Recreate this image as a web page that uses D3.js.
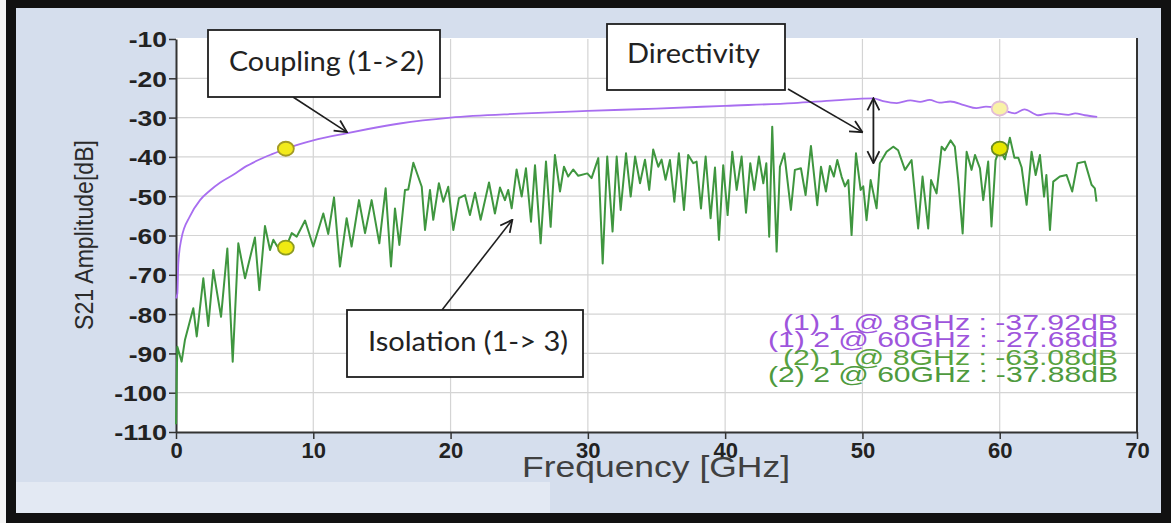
<!DOCTYPE html>
<html>
<head>
<meta charset="utf-8">
<script src="https://cdn.jsdelivr.net/npm/d3@7"></script>
<style>
  body { margin: 0; background: #fff; }
  svg { display: block; }
</style>
</head>
<body>
<svg id="chart" width="1171" height="523"></svg>
<script>
// Coupling (1->2), purple trace
const freqCoupling = [0, 0.1, 0.17, 0.4, 1.0, 1.75, 2.5, 3.2, 4.2, 5.0, 6.0, 7.0, 8.0, 10.0, 12.4, 14.0, 16.3, 20.0, 25.0, 30.0,
  35.0, 40.0, 45.0, 48.0, 50.8, 51.5, 52.5, 53.5, 54.2, 54.9, 55.6, 56.4, 57.4, 58.3, 59.0, 60.0, 60.5, 61.1, 61.8, 62.8,
  63.5, 64.0, 65.0, 65.5, 66.2, 67.1];
const ampCoupling = [-76, -74.7, -67, -60.7, -55.2, -51, -48.5, -46.6, -44.5, -42.6, -40.8, -39.3, -37.92, -35.8, -34.0, -32.9, -31.5, -30.0, -29.0, -28.3,
  -27.7, -27.0, -26.3, -25.6, -25.1, -25.8, -26.3, -25.6, -26.0, -25.5, -26.2, -25.9, -26.8, -27.6, -27.2, -27.68, -28.4, -28.9, -27.9, -29.4,
  -29.0, -28.9, -29.3, -28.9, -29.4, -29.8];

// Isolation (1->3), green trace
const freqIsolation = [0, 0.05, 0.1, 0.41, 0.65, 1.26, 1.51, 1.99, 2.35, 2.72, 3.28, 3.74, 4.13, 4.54, 5.03, 5.75, 6.07, 6.48, 6.85, 7.09,
  7.38, 8.0, 8.43, 8.79, 9.4, 10.0, 10.73, 11.09, 11.51, 11.94, 12.43, 12.79, 13.33, 13.77, 14.25, 14.81, 15.27, 15.66, 15.95, 16.27,
  16.68, 16.92, 17.29, 17.6, 17.9, 18.14, 18.5, 18.74, 19.15, 19.47, 19.83, 20.2, 20.61, 21.05, 21.41, 21.78, 22.19, 22.8, 23.23, 23.6,
  23.96, 24.2, 24.45, 24.81, 25.18, 25.49, 25.86, 26.15, 26.56, 26.95, 27.29, 27.6, 27.97, 28.26, 28.57, 28.93, 29.3, 29.96, 30.27, 30.76,
  31.08, 31.41, 31.8, 32.1, 32.39, 32.78, 33.12, 33.44, 33.8, 34.16, 34.47, 34.76, 35.13, 35.37, 35.66, 35.98, 36.3, 36.63, 37.0, 37.31,
  37.68, 37.92, 38.24, 38.58, 38.94, 39.26, 39.55, 39.86, 40.18, 40.52, 40.84, 41.2, 41.52, 41.83, 42.12, 42.46, 42.78, 43.0, 43.21, 43.43,
  43.75, 43.99, 44.31, 44.79, 45.08, 45.52, 45.86, 46.25, 46.71, 46.98, 47.34, 47.63, 47.92, 48.17, 48.48, 48.73, 48.97, 49.21, 49.53, 49.87,
  50.06, 50.3, 50.6, 51.03, 51.27, 51.76, 52.24, 52.6, 53.1, 53.58, 54.06, 54.38, 54.79, 55.0, 55.4, 55.77, 56.0, 56.42, 56.73, 56.98,
  57.3, 57.59, 57.95, 58.2, 58.56, 58.8, 59.16, 59.4, 59.7, 60.0, 60.38, 60.74, 61.07, 61.35, 61.6, 61.96, 62.32, 62.62, 62.93, 63.23,
  63.4, 63.66, 63.9, 64.38, 64.87, 65.28, 65.67, 66.2, 66.69, 66.93, 67.05];
const ampIsolation = [-108, -96, -88.3, -92.1, -86.6, -78.5, -85.7, -70.9, -83.0, -68.8, -80.7, -63.3, -92.1, -62.0, -70.9, -60.5, -73.9, -57.6, -63.7, -61.1,
  -62.8, -63.08, -59.4, -60.3, -56.2, -62.8, -54.4, -59.6, -50.3, -67.9, -55.6, -62.8, -51.0, -59.4, -51.0, -62.0, -48.0, -67.9, -53.1, -62.4,
  -48.4, -48.3, -41.5, -44.6, -47.6, -58.6, -48.4, -56.0, -46.7, -51.4, -47.6, -58.6, -50.5, -49.7, -54.8, -49.1, -56.0, -46.5, -54.4, -47.8,
  -51.0, -48.4, -53.1, -43.2, -50.1, -42.9, -56.5, -42.1, -62.0, -41.2, -57.8, -39.5, -48.8, -42.5, -45.0, -43.2, -44.8, -44.2, -45.4, -40.3,
  -67.1, -39.9, -59.0, -39.9, -53.5, -39.1, -50.1, -39.9, -46.7, -40.7, -48.4, -38.1, -42.5, -40.7, -45.8, -40.8, -51.4, -39.1, -53.5, -39.5,
  -41.6, -41.2, -53.1, -39.9, -55.6, -42.7, -61.1, -42.1, -54.8, -38.7, -48.4, -39.9, -54.2, -41.6, -48.4, -39.9, -46.7, -41.6, -60.3, -32.3,
  -64.1, -42.5, -39.1, -53.5, -43.3, -42.9, -49.7, -37.2, -52.3, -42.5, -48.8, -42.3, -45.0, -40.8, -45.0, -47.5, -45.9, -59.9, -39.1, -48.4,
  -47.5, -56.1, -45.9, -53.1, -41.6, -38.7, -37.4, -38.3, -43.3, -40.8, -58.2, -45.0, -58.2, -45.9, -49.3, -37.4, -38.3, -35.8, -37.4, -45.9,
  -59.5, -38.7, -43.3, -39.5, -42.9, -51.0, -41.2, -57.7, -40.8, -37.88, -40.6, -35.1, -40.2, -40.2, -42.7, -52.2, -38.7, -44.6, -39.5, -50.1,
  -44.6, -58.6, -46.3, -45.0, -44.6, -48.8, -41.6, -41.2, -47.1, -48.0, -51.4];

// cursor markers
const markerFreqs = [8, 60];
const markerCoupling = [-37.92, -27.68];
const markerIsolation = [-63.08, -37.88];

const xTicks = [0, 10, 20, 30, 40, 50, 60, 70];
const yTicks = [-10, -20, -30, -40, -50, -60, -70, -80, -90, -100, -110];

const svg = d3.select('#chart');
const sans = '"Liberation Sans", Arial, sans-serif';
const calib = 'Lato, "Open Sans", sans-serif';

// frame / panel background
svg.append('rect').attr('x', 0).attr('y', 0).attr('width', 1171).attr('height', 523).attr('fill', '#111');
svg.append('rect').attr('x', 0).attr('y', 0).attr('width', 6).attr('height', 523).attr('fill', '#f4f4f4');
svg.append('rect').attr('x', 16).attr('y', 8).attr('width', 1145).attr('height', 505).attr('fill', '#d5deed');
svg.append('rect').attr('x', 16).attr('y', 482).attr('width', 534).attr('height', 31).attr('fill', '#e3e9f3');

const x = d3.scaleLinear().domain([0, 70]).range([176, 1137]);
const y = d3.scaleLinear().domain([-110, -10]).range([432, 39]);

// plot area
svg.append('rect')
  .attr('x', x(0)).attr('y', y(-10) - 1)
  .attr('width', x(70) - x(0)).attr('height', y(-110) - y(-10) + 1)
  .attr('fill', '#fff');

// grid
svg.append('g').selectAll('line')
  .data(xTicks.slice(1, -1))
  .join('line')
  .attr('x1', d => x(d)).attr('x2', d => x(d))
  .attr('y1', y(-10)).attr('y2', y(-110))
  .attr('stroke', '#d4d4d4').attr('stroke-width', 1.2);
svg.append('g').selectAll('line')
  .data(yTicks.slice(1, -1))
  .join('line')
  .attr('x1', x(0)).attr('x2', x(70))
  .attr('y1', d => y(d)).attr('y2', d => y(d))
  .attr('stroke', '#d4d4d4').attr('stroke-width', 1.2);

// right border of plot
svg.append('line')
  .attr('x1', x(70)).attr('x2', x(70)).attr('y1', y(-10) - 1).attr('y2', y(-110))
  .attr('stroke', '#333').attr('stroke-width', 2);

// axes (plain hyphen for the minus sign, as in the original)
const yAxis = svg.append('g')
  .attr('transform', `translate(${x(0)},0)`)
  .call(d3.axisLeft(y).tickValues(yTicks).tickSize(7).tickSizeOuter(0).tickFormat(d => String(d)));
yAxis.select('.domain').attr('stroke', '#333').attr('stroke-width', 2);
yAxis.selectAll('.tick line').attr('stroke', '#333').attr('stroke-width', 1.5);
yAxis.selectAll('.tick text')
  .attr('x', -9).attr('dy', '0.36em')
  .attr('font-family', sans).attr('font-weight', 'bold').attr('font-size', 22)
  .attr('fill', '#222')
  .attr('textLength', d => 9 + 14.6 * String(Math.abs(d)).length)
  .attr('lengthAdjust', 'spacingAndGlyphs');

const xAxis = svg.append('g')
  .attr('transform', `translate(0,${y(-110)})`)
  .call(d3.axisBottom(x).tickValues(xTicks).tickSize(7).tickSizeOuter(0).tickFormat(d => String(d)));
xAxis.select('.domain').attr('stroke', '#333').attr('stroke-width', 2);
xAxis.selectAll('.tick line').attr('stroke', '#333').attr('stroke-width', 1.5);
xAxis.selectAll('.tick text')
  .attr('y', 26).attr('dy', 0)
  .attr('font-family', sans).attr('font-weight', 'bold').attr('font-size', 22)
  .attr('fill', '#222');

// axis titles
svg.append('text')
  .attr('transform', 'translate(93,235) rotate(-90)')
  .attr('text-anchor', 'middle')
  .attr('font-family', sans).attr('font-size', 26).attr('fill', '#2a2a2a')
  .attr('textLength', 190).attr('lengthAdjust', 'spacingAndGlyphs')
  .text('S21 Amplitude[dB]');
svg.append('text')
  .attr('x', 522).attr('y', 477)
  .attr('font-family', sans).attr('font-size', 29).attr('fill', '#404040')
  .attr('textLength', 268).attr('lengthAdjust', 'spacingAndGlyphs')
  .text('Frequency [GHz]');

// traces
const coupling = freqCoupling.map((f, i) => [f, ampCoupling[i]]);
const isolation = freqIsolation.map((f, i) => [f, ampIsolation[i]]);

svg.append('path')
  .datum(isolation)
  .attr('fill', 'none')
  .attr('stroke', '#3f963f').attr('stroke-width', 2).attr('stroke-linejoin', 'round')
  .attr('d', d3.line().x(d => x(d[0])).y(d => y(d[1])));

svg.append('path')
  .datum(coupling)
  .attr('fill', 'none')
  .attr('stroke', '#a86ef0').attr('stroke-width', 1.8)
  .attr('d', d3.line().curve(d3.curveMonotoneX).x(d => x(d[0])).y(d => y(d[1])));

// marker dots
const dots = [
  { f: markerFreqs[0], v: markerCoupling[0], fill: '#f2ea1c', stroke: '#a39a25' },
  { f: markerFreqs[1], v: markerCoupling[1], fill: '#f9f2a6', stroke: '#e2bcd8' },
  { f: markerFreqs[0], v: markerIsolation[0], fill: '#f0ea12', stroke: '#8c9a22' },
  { f: markerFreqs[1], v: markerIsolation[1], fill: '#e6e600', stroke: '#6a8a22' }
];
svg.append('g').selectAll('ellipse')
  .data(dots)
  .join('ellipse')
  .attr('cx', d => x(d.f)).attr('cy', d => y(d.v))
  .attr('rx', 8).attr('ry', 7)
  .attr('fill', d => d.fill).attr('stroke', d => d.stroke).attr('stroke-width', 1.8);

// readout text
const readout = [
  { t: `(1) 1 @ ${markerFreqs[0]}GHz : ${markerCoupling[0].toFixed(2)}dB`, c: '#9e55dc', yy: 330, w: 335 },
  { t: `(1) 2 @ ${markerFreqs[1]}GHz : ${markerCoupling[1].toFixed(2)}dB`, c: '#9e55dc', yy: 347, w: 350 },
  { t: `(2) 1 @ ${markerFreqs[0]}GHz : ${markerIsolation[0].toFixed(2)}dB`, c: '#58a23e', yy: 365, w: 335 },
  { t: `(2) 2 @ ${markerFreqs[1]}GHz : ${markerIsolation[1].toFixed(2)}dB`, c: '#4e9a3e', yy: 382, w: 350 }
];
svg.append('g').selectAll('text')
  .data(readout)
  .join('text')
  .attr('x', 1118).attr('y', d => d.yy)
  .attr('text-anchor', 'end')
  .attr('font-family', sans).attr('font-size', 22)
  .attr('fill', d => d.c)
  .attr('textLength', d => d.w).attr('lengthAdjust', 'spacingAndGlyphs')
  .text(d => d.t);

// annotation arrows
const defs = svg.append('defs');
defs.append('marker')
  .attr('id', 'head')
  .attr('viewBox', '0 0 14 14').attr('refX', 13).attr('refY', 7)
  .attr('markerWidth', 14).attr('markerHeight', 14)
  .attr('markerUnits', 'userSpaceOnUse')
  .attr('orient', 'auto-start-reverse')
  .append('path')
  .attr('d', 'M1,1 L13,7 L1,13')
  .attr('fill', 'none').attr('stroke', '#1e1e1e').attr('stroke-width', 1.8);

const arrows = [
  [293, 97, x(12.45), y(-33.7)],
  [788, 89, x(50.0), y(-33.7)],
  [442, 310, x(24.5), y(-56)]
];
svg.append('g').selectAll('line')
  .data(arrows)
  .join('line')
  .attr('x1', d => d[0]).attr('y1', d => d[1])
  .attr('x2', d => d[2]).attr('y2', d => d[3])
  .attr('stroke', '#1e1e1e').attr('stroke-width', 1.6)
  .attr('marker-end', 'url(#head)');

// directivity span between the two traces
svg.append('line')
  .attr('x1', x(50.8)).attr('x2', x(50.8))
  .attr('y1', y(-25.1)).attr('y2', y(-41.6))
  .attr('stroke', '#1e1e1e').attr('stroke-width', 1.8)
  .attr('marker-start', 'url(#head)').attr('marker-end', 'url(#head)');

// callout boxes
const boxes = [
  { x0: 208, y0: 30, x1: 440, y1: 97, t: 'Coupling (1->2)', tx: 229, ty: 71, w: 195 },
  { x0: 607, y0: 24, x1: 785, y1: 90, t: 'Directivity', tx: 627, ty: 63, w: 133 },
  { x0: 347, y0: 310, x1: 583, y1: 377, t: 'Isolation (1-> 3)', tx: 368, ty: 351, w: 200 }
];
const boxG = svg.append('g').selectAll('g').data(boxes).join('g');
boxG.append('rect')
  .attr('x', d => d.x0).attr('y', d => d.y0)
  .attr('width', d => d.x1 - d.x0).attr('height', d => d.y1 - d.y0)
  .attr('fill', '#fff').attr('stroke', '#1e1e1e').attr('stroke-width', 1.8);
boxG.append('text')
  .attr('x', d => d.tx).attr('y', d => d.ty)
  .attr('font-family', calib).attr('font-size', 27).attr('fill', '#222')
  .attr('textLength', d => d.w).attr('lengthAdjust', 'spacingAndGlyphs')
  .text(d => d.t);
</script>
</body>
</html>
